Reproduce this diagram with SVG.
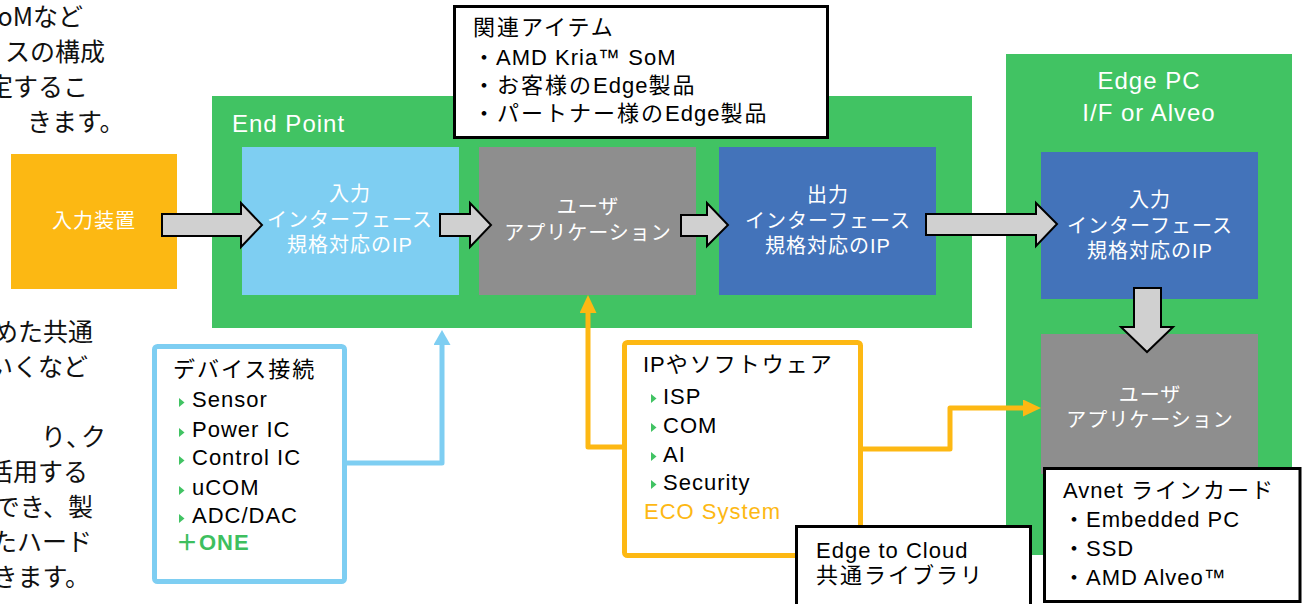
<svg xmlns="http://www.w3.org/2000/svg" width="1303" height="604" viewBox="0 0 1303 604">
<style>
  .lbl { font-family: "Liberation Sans", "Noto Sans CJK JP", sans-serif; font-size: 22px; letter-spacing: 1px; fill: #000; }
  .j { letter-spacing: 2px; }
  .bx { font-family: "Liberation Sans", "Noto Sans CJK JP", sans-serif; font-size: 20px; letter-spacing: 1px; fill: #fff; text-anchor: middle; }
  .ttl { font-family: "Liberation Sans", "Noto Sans CJK JP", sans-serif; font-size: 24px; letter-spacing: 1px; fill: #fff; }
  .side { font-family: "Noto Sans CJK JP", sans-serif; font-size: 25px; fill: #111; }
  .barrow { fill: #D0D0D0; stroke: #000; stroke-width: 2; stroke-linejoin: miter; }
  .bul { fill: #41C363; }
  .frame { fill: #fff; stroke: #000; stroke-width: 3; }
  .green { fill: #41C363; }
</style>
<defs>
  <marker id="ahBlue" markerUnits="userSpaceOnUse" viewBox="0 0 15 17" markerWidth="15" markerHeight="17" refX="0" refY="8.5" orient="auto">
    <path d="M0,0 L15,8.5 L0,17 Z" fill="#7ECEF2"/>
  </marker>
  <marker id="ahOrange" markerUnits="userSpaceOnUse" viewBox="0 0 18 17" markerWidth="18" markerHeight="17" refX="0" refY="8.5" orient="auto">
    <path d="M0,0 L18,8.5 L0,17 Z" fill="#FDB813"/>
  </marker>
</defs>
<rect width="1303" height="604" fill="#fff"/>

<!-- side text (clipped at the left edge) -->
<g id="side-text-top" class="side">
  <text x="83" y="26" text-anchor="end">SoMなど</text>
  <text x="105" y="61" text-anchor="end">スの構成</text>
  <text x="88" y="96" text-anchor="end">定するこ</text>
  <text x="27" y="131">きます。</text>
</g>
<g id="side-text-bottom" class="side">
  <text x="93" y="341" text-anchor="end">含めた共通</text>
  <text x="88" y="376" text-anchor="end">いくなど</text>
  <text x="41" y="446">り<tspan style="letter-spacing:-10px">、</tspan>ク</text>
  <text x="88" y="481" text-anchor="end">活用する</text>
  <text x="93" y="516" text-anchor="end">でき、製</text>
  <text x="92" y="551" text-anchor="end">たハード</text>
  <text x="90" y="586" text-anchor="end">きます。</text>
</g>

<!-- containers -->
<g id="endpoint">
  <rect class="green" x="212" y="96" width="760" height="232"/>
  <text class="ttl" x="232" y="132">End Point</text>
</g>
<g id="edgepc">
  <rect class="green" x="1006" y="54" width="286" height="501"/>
  <text class="ttl" x="1149" y="89" text-anchor="middle">Edge PC</text>
  <text class="ttl" x="1149" y="121" text-anchor="middle">I/F or Alveo</text>
</g>

<!-- nodes -->
<g id="input-device">
  <rect x="11" y="154" width="166" height="135" fill="#FCB813"/>
  <text class="bx" x="94" y="228">入力装置</text>
</g>
<g id="input-if">
  <rect x="242" y="147" width="217" height="148" fill="#7ECEF2"/>
  <text class="bx" x="350" y="201">入力</text>
  <text class="bx" x="350" y="227">インターフェース</text>
  <text class="bx" x="350" y="252">規格対応のIP</text>
</g>
<g id="user-app">
  <rect x="479" y="147" width="217" height="148" fill="#8E8E8E"/>
  <text class="bx" x="588" y="214" fill="#F2F2F2">ユーザ</text>
  <text class="bx" x="588" y="240" fill="#F2F2F2">アプリケーション</text>
</g>
<g id="output-if">
  <rect x="719" y="147" width="217" height="148" fill="#4373BA"/>
  <text class="bx" x="828" y="202">出力</text>
  <text class="bx" x="828" y="228">インターフェース</text>
  <text class="bx" x="828" y="253">規格対応のIP</text>
</g>
<g id="pc-input-if">
  <rect x="1041" y="152" width="217" height="147" fill="#4373BA"/>
  <text class="bx" x="1150" y="207">入力</text>
  <text class="bx" x="1150" y="233">インターフェース</text>
  <text class="bx" x="1150" y="258">規格対応のIP</text>
</g>
<g id="pc-user-app">
  <rect x="1041" y="334" width="217" height="140" fill="#8E8E8E"/>
  <text class="bx" x="1150" y="402">ユーザ</text>
  <text class="bx" x="1150" y="427">アプリケーション</text>
</g>

<!-- block arrows -->
<g id="flow-arrows">
  <polygon class="barrow" points="162,214 241,214 241,203 262,225 241,247 241,236 162,236"/>
  <polygon class="barrow" points="440,214 470,214 470,203 491,225 470,247 470,236 440,236"/>
  <polygon class="barrow" points="681,215 707,215 707,203 728,225 707,246 707,236 681,236"/>
  <polygon class="barrow" points="926,214 1036,214 1036,203 1057,224 1036,246 1036,235 926,235"/>
  <polygon class="barrow" points="1134,288 1161,288 1161,327 1173,327 1147,352 1121,327 1134,327"/>
</g>

<!-- related items -->
<g id="related-items">
  <rect class="frame" x="454.5" y="6.5" width="373" height="131"/>
  <text class="lbl" x="473" y="35"><tspan class="j">関連アイテム</tspan></text>
  <text class="lbl" x="473" y="65">・AMD Kria™ SoM</text>
  <text class="lbl" x="473" y="93"><tspan class="j">・お客様の</tspan>Edge<tspan class="j">製品</tspan></text>
  <text class="lbl" x="473" y="121"><tspan class="j">・パートナー様の</tspan>Edge<tspan class="j">製品</tspan></text>
</g>

<!-- connectors -->
<g id="connectors" fill="none" stroke-width="5" stroke-linejoin="round">
  <path d="M344,463 H442 V345" stroke="#7ECEF2" marker-end="url(#ahBlue)"/>
  <path d="M626,447 H588 V313" stroke="#FDB813" marker-end="url(#ahOrange)"/>
  <path d="M859,449 H950 V408 H1023" stroke="#FDB813" marker-end="url(#ahOrange)"/>
</g>

<!-- device connection -->
<g id="device-connection">
  <rect x="154.5" y="346.5" width="190" height="235" rx="3" fill="#fff" stroke="#7ECEF2" stroke-width="5"/>
  <text class="lbl" x="173" y="377"><tspan class="j">デバイス接続</tspan></text>
  <polygon class="bul" points="179,398 184.5,402.5 179,407"/>
  <polygon class="bul" points="179,428 184.5,432.5 179,437"/>
  <polygon class="bul" points="179,456 184.5,460.5 179,465"/>
  <polygon class="bul" points="179,486 184.5,490.5 179,495"/>
  <polygon class="bul" points="179,514 184.5,518.5 179,523"/>
  <text class="lbl" x="192" y="407">Sensor</text>
  <text class="lbl" x="192" y="437">Power IC</text>
  <text class="lbl" x="192" y="465">Control IC</text>
  <text class="lbl" x="192" y="495">uCOM</text>
  <text class="lbl" x="192" y="523">ADC/DAC</text>
  <text class="lbl" x="176" y="550" style="fill:#3EBF5F;font-weight:bold">＋ONE</text>
</g>

<!-- IP / software -->
<g id="ip-software">
  <rect x="624.5" y="342.5" width="236" height="213" rx="3" fill="#fff" stroke="#FDB813" stroke-width="5"/>
  <text class="lbl" x="643" y="372">IP<tspan class="j">やソフトウェア</tspan></text>
  <polygon class="bul" points="651,394 656.5,398.5 651,403"/>
  <polygon class="bul" points="651,423 656.5,427.5 651,432"/>
  <polygon class="bul" points="651,452 656.5,456.5 651,461"/>
  <polygon class="bul" points="651,480 656.5,484.5 651,489"/>
  <text class="lbl" x="663" y="404">ISP</text>
  <text class="lbl" x="663" y="433">COM</text>
  <text class="lbl" x="663" y="462">AI</text>
  <text class="lbl" x="663" y="490">Security</text>
  <text class="lbl" x="644" y="519" style="fill:#FDB813">ECO System</text>
</g>

<!-- edge to cloud -->
<g id="edge-to-cloud">
  <rect class="frame" x="796.5" y="526.5" width="234" height="90"/>
  <text class="lbl" x="816" y="558">Edge to Cloud</text>
  <text class="lbl" x="816" y="583"><tspan class="j">共通ライブラリ</tspan></text>
</g>

<!-- avnet line card -->
<g id="avnet">
  <rect class="frame" x="1044.5" y="468.5" width="255.5" height="133"/>
  <text class="lbl" x="1063" y="498">Avnet <tspan class="j">ラインカード</tspan></text>
  <text class="lbl" x="1063" y="527">・Embedded PC</text>
  <text class="lbl" x="1063" y="556">・SSD</text>
  <text class="lbl" x="1063" y="585">・AMD Alveo™</text>
</g>
</svg>
